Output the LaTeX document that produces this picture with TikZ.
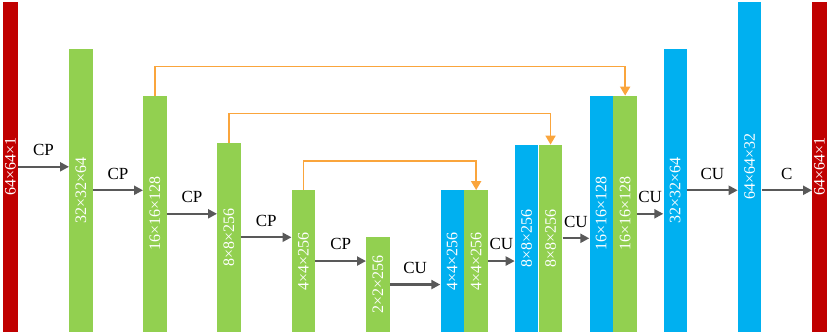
\documentclass[tikz,border=0pt]{standalone}
\usepackage{fontspec}
\setmainfont{Liberation Serif}
\usetikzlibrary{arrows.meta,positioning}
\definecolor{iored}{HTML}{C00000}
\definecolor{encgreen}{HTML}{92D050}
\definecolor{decblue}{HTML}{00B0F0}
\definecolor{arrowgray}{HTML}{595959}
\definecolor{skiporange}{RGB}{250,165,60}

\begin{document}
\begin{tikzpicture}[
    x=1pt, y=1pt,
    bar/.style={rectangle, anchor=south west, inner sep=0pt, minimum width=23.5pt, text=white, font=\fontsize{16}{16}\selectfont},
    enc/.style={bar, fill=encgreen},
    dec/.style={bar, fill=decblue},
    io/.style={bar, fill=iored, minimum width=14.5pt},
    arrow/.style={-{Triangle[length=9pt,width=9pt]}, line width=2.2pt, draw=arrowgray},
    skip/.style={-{Triangle[length=9pt,width=10pt]}, line width=1.8pt, draw=skiporange},
    op/.style={above=10pt, inner sep=0pt, font=\fontsize{17}{17}\selectfont}
]
\useasboundingbox (0,0) rectangle (831,335);

% Input
\node[io, minimum height=330pt] (inp) at (3,3) {\rotatebox{90}{64×64×1}};

% Encoder
\node[enc, minimum height=283pt] (enc1) at (69,3) {\rotatebox{90}{32×32×64}};
\node[enc, minimum height=236pt] (enc2) at (143,3) {\rotatebox{90}{16×16×128}};
\node[enc, minimum height=189pt] (enc3) at (217,3) {\rotatebox{90}{8×8×256}};
\node[enc, minimum height=141.5pt] (enc4) at (291.5,3) {\rotatebox{90}{4×4×256}};
\node[enc, minimum height=94.5pt] (enc5) at (366,3) {\rotatebox{90}{2×2×256}};

% Decoder with concatenation
\node[dec, minimum height=141.5pt] (up1) at (440.3,3) {\rotatebox{90}{4×4×256}};
\node[enc, minimum height=141.5pt] (cat1) at (up1.south east) {\rotatebox{90}{4×4×256}};
\node[dec, minimum height=187pt] (up2) at (514.7,3) {\rotatebox{90}{8×8×256}};
\node[enc, minimum height=187pt] (cat2) at (up2.south east) {\rotatebox{90}{8×8×256}};
\node[dec, minimum height=236pt] (up3) at (589.3,3) {\rotatebox{90}{16×16×128}};
\node[enc, minimum height=236pt] (cat3) at (up3.south east) {\rotatebox{90}{16×16×128}};
\node[dec, minimum height=283pt] (up4) at (663.3,3) {\rotatebox{90}{32×32×64}};
\node[dec, minimum height=330pt] (up5) at (737.7,3) {\rotatebox{90}{64×64×32}};

% Output
\node[io, minimum height=330pt] (out) at (812,3) {\rotatebox{90}{64×64×1}};

% Arrows
\draw[arrow] (inp.east) -- node[op]{CP} (inp.east -| enc1.west);
\draw[arrow] (enc1.east) -- node[op]{CP} (enc1.east -| enc2.west);
\draw[arrow] (enc2.east) -- node[op]{CP} (enc2.east -| enc3.west);
\draw[arrow] (enc3.east) -- node[op]{CP} (enc3.east -| enc4.west);
\draw[arrow] (enc4.east) -- node[op]{CP} (enc4.east -| enc5.west);
\draw[arrow] (enc5.east) -- node[op]{CU} (enc5.east -| up1.west);
\draw[arrow] (cat1.east) -- node[op]{CU} (cat1.east -| up2.west);
\draw[arrow] (cat2.east) -- node[op]{CU} (cat2.east -| up3.west);
\draw[arrow] (cat3.east) -- node[op]{CU} (cat3.east -| up4.west);
\draw[arrow] (up4.east) -- node[op]{CU} (up4.east -| up5.west);
\draw[arrow] (up5.east |- up4.east) -- node[op]{C} (up4.east -| out.west);

% Skip connections
\draw[skip] (enc2.north) -- ++(0,29) -| (cat3.north);
\draw[skip] (enc3.north) -- ++(0,29) -| (cat2.north);
\draw[skip] (enc4.north) -- ++(0,29) -| (cat1.north);

\end{tikzpicture}
\end{document}
